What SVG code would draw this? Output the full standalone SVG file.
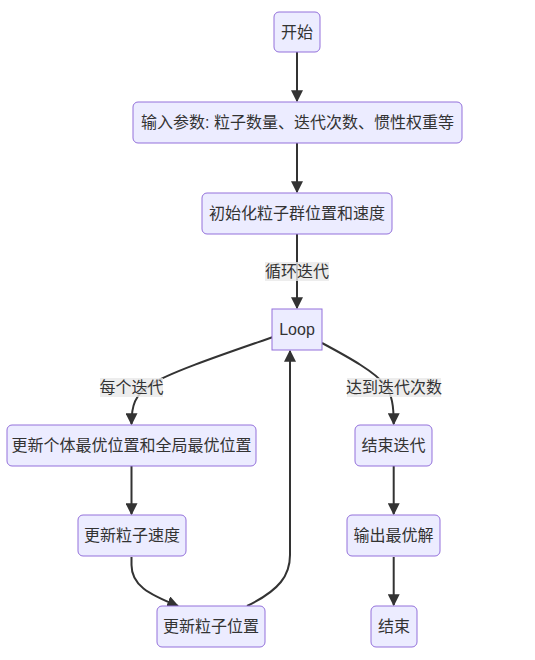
<svg xmlns="http://www.w3.org/2000/svg" width="535" height="660" viewBox="0 0 535 660">
<style>
.node rect{fill:#ECECFF;stroke:#9370DB;stroke-width:1}
text{font-family:"Liberation Sans","Noto Sans CJK SC",sans-serif;font-size:16px;fill:#333;text-anchor:middle;dominant-baseline:central}
.edge{fill:none;stroke:#333;stroke-width:2;marker-end:url(#arr)}
.lbl rect{fill:#e8e8e8;opacity:0.8}
</style>
<defs>
<marker id="arr" viewBox="0 0 10 10" refX="9" refY="5" markerUnits="userSpaceOnUse" markerWidth="12" markerHeight="12" orient="auto">
<path d="M0,0 L10,5 L0,10 z" fill="#333"/>
</marker>
</defs>
<rect width="535" height="660" fill="#fff"/>
<g id="edges">
<path class="edge" d="M297,52 L297,101"/>
<path class="edge" d="M297,143 L297,192"/>
<path class="edge" d="M297,234 L297,308"/>
<path class="edge" d="M273,337 C230,352 170,372 150,385 C135,395 131.5,405 131.5,424"/>
<path class="edge" d="M322,343 C350,358 375,372 385,385 C392,395 393.7,405 393.7,424"/>
<path class="edge" d="M131.5,466 L131.5,514"/>
<path class="edge" d="M131.5,557 L131.5,565 C131.5,585 148,594 178,606"/>
<path class="edge" d="M247,606 C280,590 290,575 290,555 L290,351"/>
<path class="edge" d="M393.7,466 L393.7,514"/>
<path class="edge" d="M393.7,557 L393.7,605"/>
</g>
<g id="labels">
<g class="lbl"><rect x="265" y="262" width="64" height="19"/><text x="297" y="271.5">循环迭代</text></g>
<g class="lbl"><rect x="100" y="378" width="63" height="19"/><text x="131.5" y="387.5">每个迭代</text></g>
<g class="lbl"><rect x="347" y="378" width="94" height="19"/><text x="394" y="387.5">达到迭代次数</text></g>
</g>
<g id="start" class="node"><rect x="274" y="12" width="46" height="40" rx="5"/><text x="297" y="32">开始</text></g>
<g id="input" class="node"><rect x="133" y="102" width="329" height="41" rx="5"/><text x="297.5" y="122.5">输入参数: 粒子数量、迭代次数、惯性权重等</text></g>
<g id="init" class="node"><rect x="202" y="193" width="190" height="41" rx="5"/><text x="297" y="213.5">初始化粒子群位置和速度</text></g>
<g id="loop" class="node"><rect x="272" y="309" width="50" height="41"/><text x="297" y="329.5">Loop</text></g>
<g id="updbest" class="node"><rect x="7" y="425" width="249" height="41" rx="5"/><text x="131.5" y="445.5">更新个体最优位置和全局最优位置</text></g>
<g id="enditer" class="node"><rect x="355" y="425" width="77" height="41" rx="5"/><text x="393.5" y="445.5">结束迭代</text></g>
<g id="updvel" class="node"><rect x="78" y="515" width="108" height="41" rx="5"/><text x="132" y="535.5">更新粒子速度</text></g>
<g id="output" class="node"><rect x="347" y="515" width="93" height="41" rx="5"/><text x="393.5" y="535.5">输出最优解</text></g>
<g id="updpos" class="node"><rect x="157" y="606" width="108" height="41" rx="5"/><text x="211" y="626.5">更新粒子位置</text></g>
<g id="end" class="node"><rect x="371" y="606" width="46" height="41" rx="5"/><text x="394" y="626.5">结束</text></g>
</svg>
